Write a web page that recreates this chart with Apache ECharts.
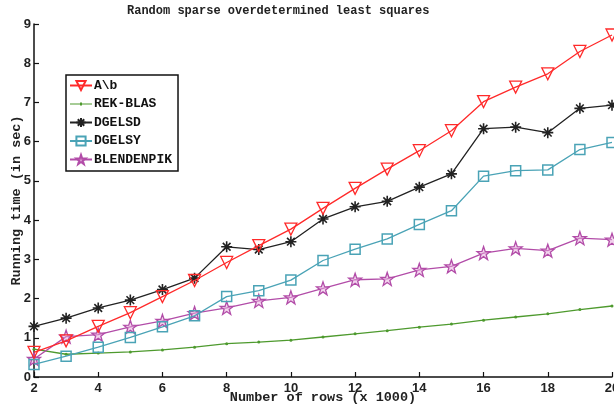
<!DOCTYPE html>
<html><head><meta charset="utf-8">
<script src="https://cdn.jsdelivr.net/npm/echarts@6/dist/echarts.min.js"></script>
<style>html,body{margin:0;padding:0;background:#fff}#c{width:614px;height:406px}</style>
</head><body><div id="c"></div>
<script>
var rows = [2,3,4,5,6,7,8,9,10,11,12,13,14,15,16,17,18,19,20];
var seriesNames = ['A\\b','REK-BLAS','DGELSD','DGELSY','BLENDENPIK'];
var aB       = [0.63,0.92,1.29,1.64,2.05,2.46,2.92,3.35,3.77,4.30,4.81,5.30,5.77,6.28,7.02,7.39,7.73,8.30,8.72];
var rekBlas  = [0.71,0.58,0.61,0.64,0.69,0.76,0.85,0.89,0.94,1.02,1.10,1.18,1.27,1.35,1.45,1.53,1.61,1.72,1.81];
var dgelsd   = [1.29,1.50,1.76,1.96,2.23,2.52,3.32,3.25,3.45,4.03,4.34,4.48,4.84,5.18,6.33,6.37,6.23,6.85,6.93];
var dgelsy   = [0.32,0.53,0.76,1.01,1.28,1.56,2.05,2.20,2.47,2.97,3.26,3.52,3.89,4.24,5.12,5.26,5.28,5.80,5.98];
var blendenpik = [0.46,1.03,1.08,1.28,1.43,1.63,1.76,1.94,2.03,2.26,2.48,2.50,2.73,2.82,3.16,3.28,3.22,3.54,3.50];
var xTicks = [2,4,6,8,10,12,14,16,18,20];
var yTicks = [0,1,2,3,4,5,6,7,8,9];

function pairs(v){ return rows.map(function(x,i){ return [x, v[i]]; }); }

var STAR = 'path://M0,-10L2.35,-3.24L9.51,-3.09L3.8,1.24L5.88,8.09L0,4L-5.88,8.09L-3.8,1.24L-9.51,-3.09L-2.35,-3.24Z';
var ASTER = 'path://M0,-10L0,10M-10,0L10,0M-7,-7L7,7M-7,7L7,-7';
var SMALLDOT_LINE = 'path://M0,5.4L22,5.4L22,6.6L0,6.6Z M10,4.6L12,4.6L12,7.4L10,7.4Z';
var mono = '"Liberation Mono", "DejaVu Sans Mono", monospace';
var sans = '"Liberation Sans", Arial, sans-serif';

var chart = echarts.init(document.getElementById('c'), null, {renderer:'canvas'});
chart.setOption({
  animation:false,
  backgroundColor:'#fff',
  title:{text:'Random sparse overdetermined least squares', left:127, top:5, padding:0,
    textStyle:{fontFamily:mono, fontWeight:'bold', fontSize:12, color:'#222'}},
  grid:{left:34, right:2, top:24, bottom:29, containLabel:false, outerBoundsMode:'none'},
  legend:{orient:'vertical', left:66, top:75, padding:[4,6,5,3], itemGap:5.5, itemWidth:22, itemHeight:11.5,
    borderColor:'#111', borderWidth:1.5, backgroundColor:'#fff',
    data:[
      {name:seriesNames[0]},
      {name:seriesNames[1], icon:SMALLDOT_LINE},
      {name:seriesNames[2]},
      {name:seriesNames[3]},
      {name:seriesNames[4]}
    ],
    textStyle:{fontFamily:mono, fontWeight:'bold', fontSize:13, color:'#111', padding:[0,0,0,-3]}},
  xAxis:{type:'value', min:2, max:20, interval:2,
    name:'Number of rows (x 1000)', nameLocation:'middle', nameGap:14, nameMoveOverlap:false,
    nameTextStyle:{fontFamily:mono, fontWeight:'bold', fontSize:13.5, color:'#222', verticalAlign:'top'},
    axisLine:{lineStyle:{color:'#111', width:1.5}},
    axisTick:{inside:true, length:5, lineStyle:{color:'#111', width:1.2}},
    axisLabel:{fontFamily:sans, fontWeight:'bold', fontSize:13, color:'#222', margin:5,
      customValues:xTicks},
    splitLine:{show:false}},
  yAxis:{type:'value', min:0, max:9, interval:1,
    name:'Running time (in sec)', nameLocation:'middle', nameGap:10, nameMoveOverlap:false,
    nameTextStyle:{fontFamily:mono, fontWeight:'bold', fontSize:13.5, color:'#222'},
    axisLine:{show:true, lineStyle:{color:'#111', width:1.5}},
    axisTick:{show:true, inside:true, length:5, lineStyle:{color:'#111', width:1.2}},
    axisLabel:{fontFamily:sans, fontWeight:'bold', fontSize:13, color:'#222', margin:3},
    splitLine:{show:false}},
  series:[
    {name:seriesNames[0], type:'line', data:pairs(aB), symbol:'triangle', symbolRotate:180, symbolSize:12,
      lineStyle:{color:'#ff2a2a', width:1.3},
      itemStyle:{color:'rgba(255,255,255,0)', borderColor:'#ff2a2a', borderWidth:1.3}, z:5},
    {name:seriesNames[1], type:'line', data:pairs(rekBlas), symbol:'circle', symbolSize:3,
      lineStyle:{color:'#4e9a2e', width:1.3},
      itemStyle:{color:'#4e9a2e', borderWidth:0}, z:1},
    {name:seriesNames[2], type:'line', data:pairs(dgelsd), symbol:ASTER, symbolSize:11,
      lineStyle:{color:'#222', width:1.3},
      itemStyle:{color:'rgba(0,0,0,0)', borderColor:'#222', borderWidth:1.6}, z:4},
    {name:seriesNames[3], type:'line', data:pairs(dgelsy), symbol:'rect', symbolSize:10,
      lineStyle:{color:'#4aa3b6', width:1.3},
      itemStyle:{color:'rgba(255,255,255,0)', borderColor:'#4aa3b6', borderWidth:1.5}, z:3},
    {name:seriesNames[4], type:'line', data:pairs(blendenpik), symbol:STAR, symbolSize:13,
      lineStyle:{color:'#b24ca8', width:1.3},
      itemStyle:{color:'rgba(230,170,220,0.5)', borderColor:'#b24ca8', borderWidth:1.3}, z:2}
  ]
});
</script></body></html>
